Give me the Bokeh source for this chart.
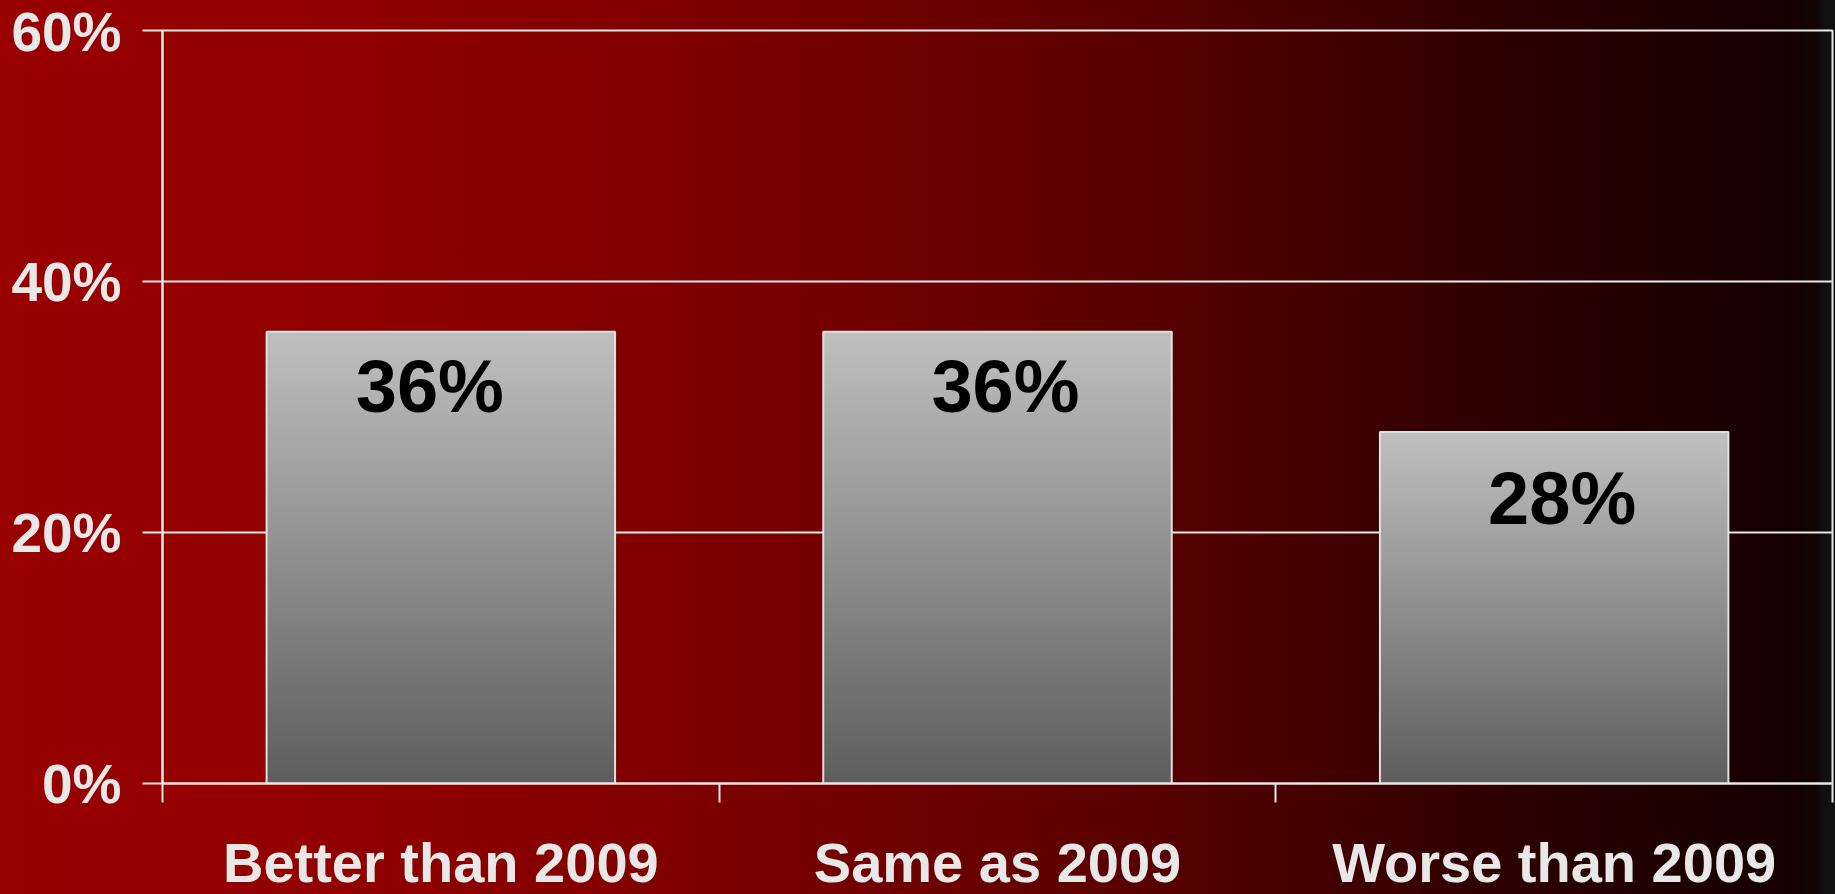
import numpy as np
from bokeh.plotting import figure
from bokeh.layouts import column
from bokeh.models import ColumnDataSource, FixedTicker
from bokeh.core.properties import value
from bokeh.embed import file_html
from bokeh.resources import INLINE

# ---- data ----
categories = ["Better than 2009", "Same as 2009", "Worse than 2009"]
shares = [36, 36, 28]
bar_labels = ["36%", "36%", "28%"]
y_ticks = [0, 20, 40, 60]
y_tick_labels = ["0%", "20%", "40%", "60%"]

# ---- style ----
FONT = "Liberation Sans"
LIGHT = "#e8e8e8"
BAR_W = 0.626
W, H = 1835, 894
H_TOP = 820                      # chart part; the rest holds category labels
LABEL_DX = [-11, 8, 8]           # value-label nudges (px), as in the original
LABEL_DY = [55, 55, 66]

bg = ("linear-gradient(to right, #990000 0px, #920000 300px, #840000 600px, "
      "#6f0000 900px, #520000 1200px, #2e0000 1500px, #150000 1790px, "
      "#120404 1815px, #111111 1826px, #111111 1835px)")

p = figure(width=W, height=H_TOP, x_range=(0, len(categories)), y_range=(0, 60),
           output_backend="svg", toolbar_location=None,
           min_border_left=162, min_border_right=3, min_border_top=30,
           min_border_bottom=H_TOP - 783,
           border_fill_color=None, background_fill_color=None,
           outline_line_color=LIGHT, outline_line_width=2,
           styles={"background": bg})

centers = [i + 0.5 for i in range(len(categories))]
lefts = [c - BAR_W / 2 for c in centers]

# vertical gray gradient for bars (style only)
N = 256
g = np.linspace(0x5e, 0xc0, N).astype(np.uint8)
rgba = np.zeros((N, 1, 4), dtype=np.uint8)
rgba[:, 0, 0] = g
rgba[:, 0, 1] = g
rgba[:, 0, 2] = g
rgba[:, 0, 3] = 255
img = rgba.view(np.uint32).reshape(N, 1)

src = ColumnDataSource(dict(
    x=centers, left=lefts, top=shares, label=bar_labels, cat=categories,
    img=[img] * len(categories),
    zero=[0] * len(categories), dw=[BAR_W] * len(categories),
    dx=LABEL_DX, dy=LABEL_DY,
))

p.image_rgba(image="img", x="left", y="zero", dw="dw", dh="top", source=src)
p.vbar(x="x", top="top", width=BAR_W, source=src,
       fill_color=None, line_color="#e0e0e0", line_width=2)

p.text(x="x", y="top", text="label", source=src,
       text_align="center", text_baseline="alphabetic",
       x_offset="dx", y_offset="dy",
       text_font=value(FONT), text_font_style="bold",
       text_font_size="74px", text_color="black")

# y axis
p.yaxis.ticker = FixedTicker(ticks=y_ticks)
p.yaxis.major_label_overrides = {t: s for t, s in zip(y_ticks, y_tick_labels)}
p.yaxis.major_label_text_font = FONT
p.yaxis.major_label_text_font_style = "bold"
p.yaxis.major_label_text_font_size = "55px"
p.yaxis.major_label_text_color = LIGHT
p.yaxis.major_label_standoff = 21
p.yaxis.major_tick_out = 20
p.yaxis.major_tick_in = 0
p.yaxis.major_tick_line_color = LIGHT
p.yaxis.major_tick_line_width = 2
p.yaxis.minor_tick_line_color = None
p.yaxis.axis_line_color = LIGHT
p.yaxis.axis_line_width = 2

# x axis: only tick marks at category boundaries (labels drawn in the strip below)
p.xaxis.ticker = FixedTicker(ticks=[],
                             minor_ticks=list(range(len(categories) + 1)))
p.xaxis.major_tick_line_color = None
p.xaxis.major_label_standoff = 0
p.xaxis.minor_tick_out = 19
p.xaxis.minor_tick_in = 0
p.xaxis.minor_tick_line_color = LIGHT
p.xaxis.minor_tick_line_width = 2
p.xaxis.axis_line_color = LIGHT
p.xaxis.axis_line_width = 2

# grid
p.xgrid.visible = False
p.ygrid.ticker = FixedTicker(ticks=y_ticks)
p.ygrid.grid_line_color = LIGHT
p.ygrid.grid_line_width = 2

# category label strip, sharing the x scale of the chart
p2 = figure(width=W, height=H - H_TOP, x_range=p.x_range, y_range=(0, 1),
            output_backend="svg", toolbar_location=None,
            x_axis_location=None, y_axis_location=None,
            min_border_left=162, min_border_right=3, min_border_top=0,
            min_border_bottom=0,
            border_fill_color=None, background_fill_color=None,
            outline_line_color=None,
            styles={"background": bg})
p2.grid.visible = False
p2.text(x="x", y="zero", text="cat", source=src,
        text_align="center", text_baseline="alphabetic", y_offset=-32,
        text_font=value(FONT), text_font_style="bold",
        text_font_size="56px", text_color=LIGHT)

layout = column(p, p2, spacing=0)

open("out.html", "w").write(file_html(layout, INLINE))
